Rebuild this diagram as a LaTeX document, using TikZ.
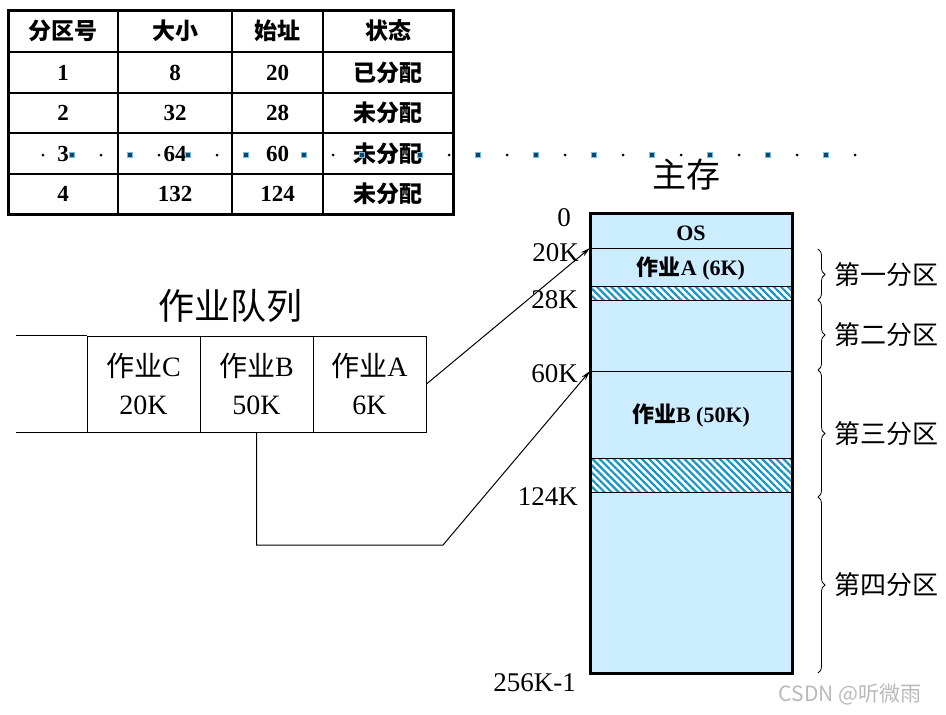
\documentclass[tikz,border=0pt]{standalone}
\usepackage{fontspec}
\setmainfont{Liberation Serif}
\newfontfamily\cjk{Noto Sans CJK SC}
\usetikzlibrary{arrows.meta}
\usetikzlibrary{decorations.pathreplacing}
\usetikzlibrary{patterns.meta}
\definecolor{memblue}{RGB}{204,236,255}
\definecolor{hatchblue}{RGB}{20,150,200}
\definecolor{dotblue}{RGB}{15,70,110}
\newcommand{\zh}[1]{{\cjk #1}}
\newcommand{\tabrow}[6]{\node[tabtext] (#1a) at (63,#2) {#3}; \node[tabtext] (#1b) at (175,#2) {#4}; \node[tabtext] (#1c) at (277.5,#2) {#5}; \node[tabtext] (#1d) at (388,#2) {#6};}
\newcommand{\partbrace}[4]{\draw[partline] (818,#2) -- (818,#3) node[partlabel] (#1) {\zh{#4}};}
\tikzset{
  tabtext/.style={font=\fontsize{23}{25}\selectfont\bfseries, inner sep=0pt},
  memtext/.style={font=\fontsize{22}{24}\selectfont\bfseries, inner sep=0pt},
  addr/.style={anchor=east, font=\fontsize{27}{29}\selectfont, inner sep=0pt},
  jobcell/.style={draw, line width=1pt, minimum width=113pt, minimum height=96pt, inner sep=0pt, align=center, font=\fontsize{28}{38}\selectfont},
  partline/.style={decorate, decoration={brace, amplitude=7pt}, line width=0.8pt},
  partlabel/.style={midway, anchor=west, xshift=16pt, inner sep=0pt, font=\fontsize{26}{28}\selectfont},
  hatch/.style={pattern={Lines[angle=-45,distance=5pt,line width=2.2pt]}, pattern color=hatchblue},
  link/.style={-{Stealth[length=10pt,width=5pt]}, line width=1pt},
}
\begin{document}
\begin{tikzpicture}[x=1pt,y=-1pt]
    \useasboundingbox (0,0) rectangle (946,715);

    \draw[line width=1.5pt] (118,10) -- (118,214);
    \draw[line width=1.5pt] (232,10) -- (232,214);
    \draw[line width=1.5pt] (323,10) -- (323,214);
    \draw[line width=1.5pt] (8,52) -- (453,52);
    \draw[line width=1.5pt] (8,93) -- (453,93);
    \draw[line width=1.5pt] (8,133) -- (453,133);
    \draw[line width=1.5pt] (8,174) -- (453,174);
    \draw[line width=3pt] (8,10) rectangle (453,214);

    \tabrow{h}{31}{\zh{分区号}}{\zh{大小}}{\zh{始址}}{\zh{状态}}
    \tabrow{r1}{72.5}{1}{8}{20}{\zh{已分配}}
    \tabrow{r2}{113}{2}{32}{28}{\zh{未分配}}
    \tabrow{r3}{153.5}{3}{64}{60}{\zh{未分配}}
    \tabrow{r4}{194}{4}{132}{124}{\zh{未分配}}

    \foreach \k in {0,...,14} \fill (43+58*\k,155) circle (1.5);
    \foreach \k in {0,...,13} \filldraw[fill=dotblue, draw=hatchblue!60, line width=0.7pt] (69.5+58*\k,152.5) rectangle ++(5,5);

    \node[font=\fontsize{34}{36}\selectfont\cjk] (mainmem) at (686,175) {主存};

    \fill[memblue] (590,213) rectangle (792,673);
    \fill[white] (590,286) rectangle (792,300);
    \fill[hatch] (590,286) rectangle (792,300);
    \fill[white] (590,458) rectangle (792,492);
    \fill[hatch] (590,458) rectangle (792,492);
    \draw[line width=0.8pt] (590,248) -- (792,248);
    \draw[line width=0.8pt] (590,286) -- (792,286);
    \draw[line width=0.8pt] (590,300) -- (792,300);
    \draw[line width=0.8pt] (590,371) -- (792,371);
    \draw[line width=0.8pt] (590,458) -- (792,458);
    \draw[line width=0.8pt] (590,492) -- (792,492);
    \draw[line width=3pt] (590,213) rectangle (792,673);
    \coordinate (m20) at (590,248);
    \coordinate (m60) at (590,371);

    \node[memtext] (os) at (691,233) {OS};
    \node[memtext] (segA) at (691,268) {\zh{作业}A (6K)};
    \node[memtext] (segB) at (691,415) {\zh{作业}B (50K)};

    \node[addr] (a0) at (571,218) {0};
    \node[addr] (a20) at (579,253) {20K};
    \node[addr] (a28) at (578,300) {28K};
    \node[addr] (a60) at (578,374) {60K};
    \node[addr] (a124) at (578,497) {124K};
    \node[addr] (a256) at (576,683) {256K-1};

    \partbrace{p1}{249}{300}{第一分区}
    \partbrace{p2}{300}{370}{第二分区}
    \partbrace{p3}{370}{497}{第三分区}
    \partbrace{p4}{497}{673}{第四分区}

    \node[font=\fontsize{36}{38}\selectfont\cjk] (queue) at (230,306) {作业队列};
    \node[jobcell] (jobC) at (143.5,384) {\zh{作业}C\\20K};
    \node[jobcell] (jobB) at (256.5,384) {\zh{作业}B\\50K};
    \node[jobcell] (jobA) at (369.5,384) {\zh{作业}A\\6K};
    \draw[line width=1pt] (jobC.north west) -- ++(-71,0);
    \draw[line width=1pt] (jobC.south west) -- ++(-71,0);

    \draw[link] (jobA.east) -- (m20);
    \coordinate (bend) at (443,545);
    \draw[link] (jobB.south) |- (bend) -- (m60);

    \node[font=\fontsize{21}{23}\selectfont\cjk, text=gray!55] (mark) at (850,694) {CSDN @听微雨};
\end{tikzpicture}
\end{document}
